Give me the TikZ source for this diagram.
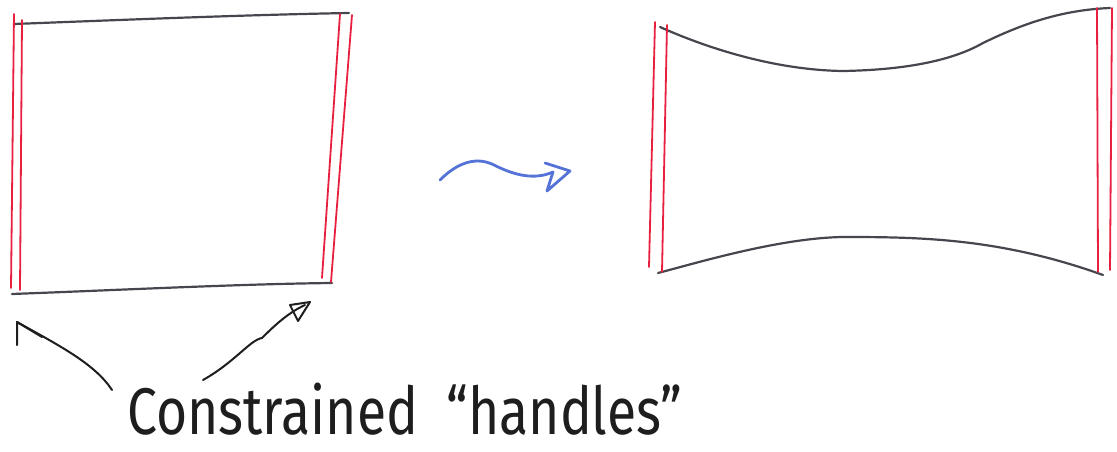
\documentclass[tikz,border=0pt]{standalone}
\usepackage{fontspec}
\setmainfont{Fira Sans}
\usepackage{graphicx}
\definecolor{handred}{RGB}{232,32,64}
\definecolor{pencil}{RGB}{70,70,78}
\definecolor{inkblue}{RGB}{85,115,215}
\definecolor{inkblack}{RGB}{30,30,30}
\tikzset{
  redline/.style={draw=handred, line width=1.8pt, line cap=round},
  edgeline/.style={draw=pencil, line width=2.2pt, line cap=round, line join=round},
  bluearrow/.style={draw=inkblue, line width=2.8pt, line cap=round, line join=round},
  inkarrow/.style={draw=inkblack, line width=2pt, line cap=round, line join=round},
  label/.style={inner sep=0pt, text=inkblack}
}
\begin{document}
\begin{tikzpicture}[x=1pt,y=-1pt]
\useasboundingbox (0,0) rectangle (1117,452);
% ---------- left box ----------
\draw[edgeline] (14,24) .. controls (120,20) and (240,15) .. (349,13);
\draw[edgeline] (12,294) .. controls (120,290) and (240,284) .. (332,283);
\draw[redline] (14,14) -- (11,288);
\draw[redline] (22,20) -- (20,290);
\draw[redline] (340,14) -- (322,278);
\draw[redline] (352,15) -- (331,282);
% ---------- middle arrow ----------
\coordinate (ms) at (440,180);
\coordinate (mt) at (553,172);
\draw[bluearrow] (ms) .. controls (460,160) and (478,158) .. (492,164)
   .. controls (515,176) and (535,180) .. (mt);
\draw[bluearrow] (545,163) -- (570,171) -- (547,191) -- (mt);
% ---------- right shape ----------
\draw[edgeline] (660,27) .. controls (700,45) and (770,70) .. (843,71)
   .. controls (900,70) and (950,62) .. (983,43)
   .. controls (1020,25) and (1060,10) .. (1110,8);
\draw[edgeline] (658,273) .. controls (700,262) and (780,238) .. (843,237)
   .. controls (920,237) and (1000,238) .. (1103,275);
\draw[redline] (655,22) -- (649,267);
\draw[redline] (667,25) -- (662,272);
\draw[redline] (1097,8) -- (1098,272);
\draw[redline] (1112,8) -- (1110,270);
% ---------- label and pointer arrows ----------
\node[label, anchor=base west] (lab) at (127,434)
  {\scalebox{0.81}[1]{\fontsize{66}{72}\selectfont Constrained \ “handles”}};
\coordinate (ls) at (112,390);
\coordinate (lt) at (17,322);
\draw[inkarrow] (ls) .. controls (95,364) and (60,346) .. (lt);
\draw[inkarrow] (17,345) -- (lt) -- (42,337);
\coordinate (rs) at (203,380);
\coordinate (rt) at (305,305);
\draw[inkarrow] (rs) .. controls (235,362) and (250,340) .. (262,338)
   .. controls (278,322) and (290,312) .. (rt);
\draw[inkarrow] (290,305) -- (310,302) -- (298,321) -- cycle;
\end{tikzpicture}
\end{document}
